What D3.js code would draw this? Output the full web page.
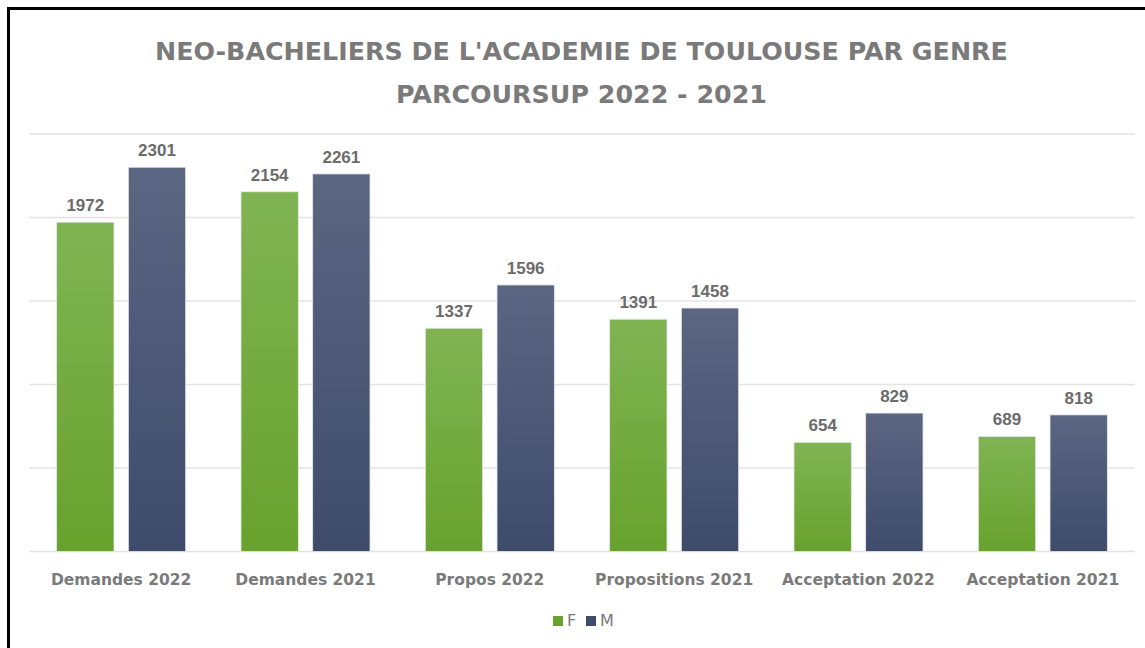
<!DOCTYPE html>
<html>
<head>
<meta charset="utf-8">
<script src="https://cdn.jsdelivr.net/npm/d3@7"></script>
<style>
    body { margin: 0; background: #fff; }
    svg { display: block; }
</style>
</head>
<body>
<svg width="1145" height="648"></svg>
<script>
const categories = ['Demandes 2022', 'Demandes 2021', 'Propos 2022', 'Propositions 2021', 'Acceptation 2022', 'Acceptation 2021'];
const series = ['F', 'M'];
const valuesF = [1972, 2154, 1337, 1391, 654, 689];
const valuesM = [2301, 2261, 1596, 1458, 829, 818];
const yTicks = [0, 500, 1000, 1500, 2000, 2500];
const titleLines = ["NEO-BACHELIERS DE L'ACADEMIE DE TOULOUSE PAR GENRE", 'PARCOURSUP 2022 - 2021'];

const LEFT = 29, RIGHT = 1135, TOP = 134, BOTTOM = 551.5;
const TEXT = '#6b6b6b';

let svg = d3.select('svg');

// gradients, one per series
let defs = svg.append('defs');
let grads = {
    F: ['#80b453', '#67a22d'],
    M: ['#5b6682', '#3e4b6b']
};
series.forEach(s => {
    let g = defs.append('linearGradient')
        .attr('id', 'grad_' + s)
        .attr('x1', 0).attr('y1', 0).attr('x2', 0).attr('y2', 1);
    g.append('stop').attr('offset', '0%').attr('stop-color', grads[s][0]);
    g.append('stop').attr('offset', '100%').attr('stop-color', grads[s][1]);
});

// frame (left + top edges only)
svg.append('path')
    .attr('d', 'M8.5,648 V8.5 H1145')
    .attr('fill', 'none')
    .attr('stroke', '#000')
    .attr('stroke-width', 3);

// title - fit font size to the width of line 1
let title = svg.selectAll('.title')
    .data(titleLines)
    .enter()
    .append('text')
    .attr('class', 'title')
    .attr('x', 581.5)
    .attr('y', (d, i) => 60 + i * 43)
    .attr('text-anchor', 'middle')
    .style('font-family', 'DejaVu Sans, sans-serif')
    .style('font-weight', 'bold')
    .style('font-size', '30px')
    .style('fill', '#7a7a7a')
    .text(d => d);

let natural = title.node().getComputedTextLength();
title.style('font-size', (30 * 853 / natural).toFixed(2) + 'px');

// scales
let x0 = d3.scaleBand()
    .domain(categories)
    .range([LEFT, RIGHT])
    .paddingInner(0.3)
    .paddingOuter(0.15);

let x1 = d3.scaleBand()
    .domain(series)
    .range([0, x0.bandwidth()])
    .paddingInner(0.2);

let y = d3.scaleLinear()
    .domain([0, 2500])
    .range([BOTTOM, TOP]);

// gridlines
svg.selectAll('.grid')
    .data(yTicks)
    .enter()
    .append('line')
    .attr('x1', LEFT)
    .attr('x2', RIGHT)
    .attr('y1', d => y(d))
    .attr('y2', d => y(d))
    .attr('stroke', '#e3e3e3')
    .attr('stroke-width', 1.5);

// bars
let rows = categories.map((c, i) => ({ cat: c, vals: [
    { s: 'F', v: valuesF[i] },
    { s: 'M', v: valuesM[i] }
] }));

let groups = svg.selectAll('.group')
    .data(rows)
    .enter()
    .append('g')
    .attr('transform', d => `translate(${x0(d.cat)},0)`);

groups.selectAll('rect')
    .data(d => d.vals)
    .enter()
    .append('rect')
    .attr('x', d => x1(d.s))
    .attr('width', x1.bandwidth())
    .attr('y', d => y(d.v))
    .attr('height', d => y(0) - y(d.v))
    .attr('fill', d => `url(#grad_${d.s})`)
    .attr('stroke', '#e8e8e8')
    .attr('stroke-width', 0.8);

groups.selectAll('.val')
    .data(d => d.vals)
    .enter()
    .append('text')
    .attr('x', d => x1(d.s) + x1.bandwidth() / 2)
    .attr('y', d => y(d.v) - 11)
    .attr('text-anchor', 'middle')
    .style('font-family', 'Liberation Sans, Arial, sans-serif')
    .style('font-weight', 'bold')
    .style('font-size', '17px')
    .style('fill', TEXT)
    .text(d => d.v);

// category labels
svg.selectAll('.cat')
    .data(categories)
    .enter()
    .append('text')
    .attr('x', d => x0(d) + x0.bandwidth() / 2)
    .attr('y', 585)
    .attr('text-anchor', 'middle')
    .style('font-family', 'DejaVu Sans, sans-serif')
    .style('font-weight', 'bold')
    .style('font-size', '15.5px')
    .style('fill', '#7a7a7a')
    .text(d => d);

// legend
let legend = svg.selectAll('.legend')
    .data(series)
    .enter()
    .append('g')
    .attr('transform', (d, i) => `translate(${553 + i * 33},616)`);

legend.append('rect')
    .attr('width', 10)
    .attr('height', 10)
    .attr('fill', d => grads[d][1]);

legend.append('text')
    .attr('x', 14)
    .attr('y', 10)
    .style('font-family', 'DejaVu Sans, sans-serif')
    .style('font-size', '16px')
    .style('fill', '#7a7a7a')
    .text(d => d);
</script>
</body>
</html>
